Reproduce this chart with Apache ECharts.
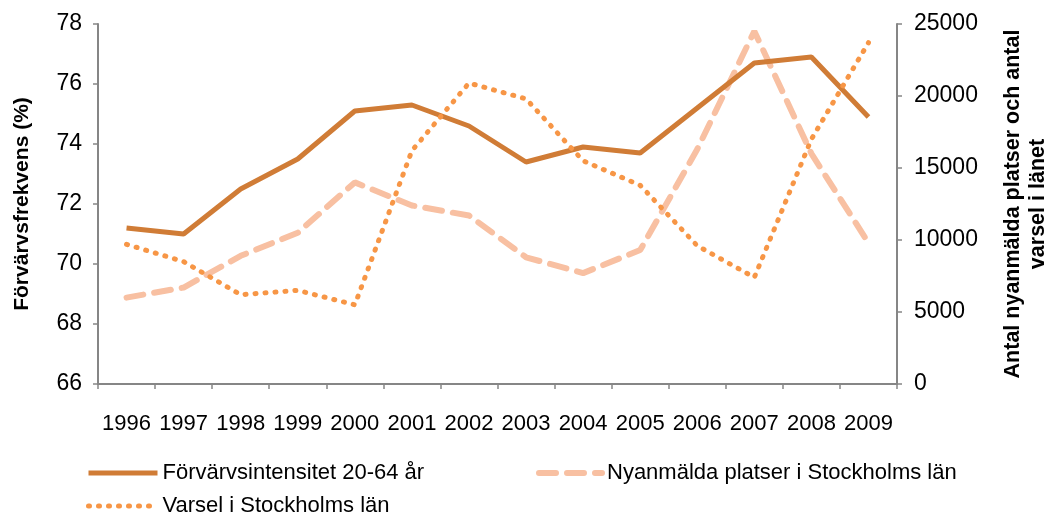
<!DOCTYPE html>
<html>
<head>
<meta charset="utf-8">
<script src="https://cdn.jsdelivr.net/npm/echarts@6/dist/echarts.min.js"></script>
<style>
  html, body { margin: 0; padding: 0; background: #fff; }
  #chart { width: 1057px; height: 513px; }
</style>
</head>
<body>
<div id="chart"></div>
<script>
const years = ['1996', '1997', '1998', '1999', '2000', '2001', '2002', '2003', '2004', '2005', '2006', '2007', '2008', '2009']

// Förvärvsintensitet 20-64 år (%), vänster axel
const intensitet = [71.2, 71.0, 72.5, 73.5, 75.1, 75.3, 74.6, 73.4, 73.9, 73.7, 75.2, 76.7, 76.9, 74.9]
// Nyanmälda platser i Stockholms län, höger axel
const nyanmalda = [6000, 6700, 8900, 10500, 14000, 12400, 11700, 8800, 7700, 9300, 16300, 24500, 16000, 9800]
// Varsel i Stockholms län, höger axel
const varsel = [9700, 8500, 6200, 6500, 5500, 16200, 20900, 19800, 15500, 13800, 9600, 7400, 17000, 23700]

const leftTicks = { min: 66, max: 78, interval: 2 }
const rightTicks = { min: 0, max: 25000, interval: 5000 }

const names = ['Förvärvsintensitet 20-64 år', 'Nyanmälda platser i Stockholms län', 'Varsel i Stockholms län']

const font = 'Liberation Sans'
const axisGray = '#868686'

const solidStyle = { color: '#D07C36', width: 5, type: 'solid', cap: 'butt' }
const dashStyle = { color: '#F8C0A2', width: 6, type: [17, 11], cap: 'round' }
const dotStyle = { color: '#F79646', width: 5, type: [1, 9], cap: 'round' }

const chart = echarts.init(document.getElementById('chart'))

const legendText = { fontSize: 22, color: '#000', fontFamily: font }

const option = {
    animation: false,
    textStyle: { fontFamily: font },
    grid: {
        left: 98,
        right: 160,
        top: 24,
        bottom: 129,
        outerBoundsMode: 'none',
    },
    legend: [{
        left: 81,
        top: 457,
        itemWidth: 69,
        itemHeight: 14,
        itemStyle: { opacity: 0 },
        lineStyle: solidStyle,
        textStyle: legendText,
        data: [names[0]]
    }, {
        left: 531,
        top: 457,
        itemWidth: 63,
        itemHeight: 14,
        itemStyle: { opacity: 0 },
        lineStyle: dashStyle,
        textStyle: legendText,
        data: [names[1]]
    }, {
        left: 81,
        top: 490,
        itemWidth: 69,
        itemHeight: 14,
        itemStyle: { opacity: 0 },
        lineStyle: dotStyle,
        textStyle: legendText,
        data: [names[2]]
    }],
    xAxis: [{
        type: 'category',
        boundaryGap: true,
        data: years,
        axisLine: { show: true, lineStyle: { color: axisGray, width: 2 } },
        axisTick: { show: true, length: 5, alignWithLabel: false, lineStyle: { color: axisGray, width: 1.5 } },
        axisLabel: { color: '#000', fontSize: 22, margin: 29, interval: 0 },
        splitLine: { show: false },
    }],
    yAxis: [{
        type: 'value',
        position: 'left',
        min: leftTicks.min,
        max: leftTicks.max,
        interval: leftTicks.interval,
        name: 'Förvärvsfrekvens (%)',
        nameLocation: 'middle',
        nameGap: 65,
        nameTextStyle: { fontSize: 21, fontWeight: 'bold', color: '#000', fontFamily: font },
        axisLine: { show: true, lineStyle: { color: axisGray, width: 2 } },
        axisTick: { show: true, length: 5, lineStyle: { color: axisGray, width: 1.5 } },
        axisLabel: { color: '#000', fontSize: 23, margin: 16 },
        splitLine: { show: false },
    }, {
        type: 'value',
        position: 'right',
        min: rightTicks.min,
        max: rightTicks.max,
        interval: rightTicks.interval,
        name: 'Antal nyanmälda platser och antal\nvarsel i länet',
        nameLocation: 'middle',
        nameGap: 104,
        nameRotate: 90,
        nameTextStyle: { fontSize: 21.5, fontWeight: 'bold', color: '#000', fontFamily: font, lineHeight: 25, align: 'center' },
        axisLine: { show: true, lineStyle: { color: axisGray, width: 2 } },
        axisTick: { show: true, length: 5, lineStyle: { color: axisGray, width: 1.5 } },
        axisLabel: { color: '#000', fontSize: 23, margin: 17, formatter: v => String(v) },
        splitLine: { show: false },
    }],
    series: [{
        name: names[0],
        type: 'line',
        yAxisIndex: 0,
        symbol: 'none',
        z: 3,
        itemStyle: { color: solidStyle.color },
        lineStyle: solidStyle,
        data: intensitet
    }, {
        name: names[1],
        type: 'line',
        yAxisIndex: 1,
        symbol: 'none',
        z: 2,
        itemStyle: { color: dashStyle.color },
        lineStyle: dashStyle,
        data: nyanmalda
    }, {
        name: names[2],
        type: 'line',
        yAxisIndex: 1,
        symbol: 'none',
        z: 4,
        itemStyle: { color: dotStyle.color },
        lineStyle: dotStyle,
        data: varsel
    }]
}

chart.setOption(option)
</script>
</body>
</html>
